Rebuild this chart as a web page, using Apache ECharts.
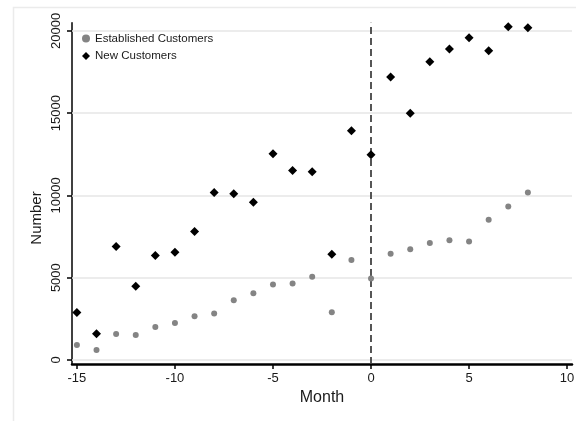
<!DOCTYPE html>
<html><head><meta charset="utf-8">
<script src="https://cdn.jsdelivr.net/npm/echarts@6/dist/echarts.min.js"></script>
<style>html,body{margin:0;padding:0;background:#fff}#c{width:576px;height:421px}</style>
</head><body><div id="c"></div>
<script>
const months = [-15,-14,-13,-12,-11,-10,-9,-8,-7,-6,-5,-4,-3,-2,-1,0,1,2,3,4,5,6,7,8];
const established = [900,600,1580,1520,2000,2250,2650,2820,3630,4050,4580,4640,5050,2900,6080,4950,6450,6730,7100,7280,7200,8520,9330,10180];
const newCustomers = [2880,1590,6900,4480,6350,6550,7800,10180,10100,9590,12530,11520,11440,6430,13930,12470,17200,15000,18130,18900,19590,18800,20260,20200];
const xTicks = [-15,-10,-5,0,5,10];
const yTicks = [0,5000,10000,15000,20000];
const cutoffMonth = 0;

const FONT = 'Liberation Sans, Arial, sans-serif';
const chart = echarts.init(document.getElementById('c'), null, {renderer:'canvas'});
const option = {
  animation:false,
  backgroundColor:'#fff',
  textStyle:{fontFamily:FONT},
  graphic:[
    {type:'rect', z:-5, silent:true, shape:{x:13.5,y:7.5,width:620,height:520}, style:{fill:'#fff', stroke:'#ebebeb', lineWidth:1.5}},
    {type:'text', silent:true, x:37, y:218, rotation:Math.PI/2,
     style:{text:'Number', fontSize:15, fill:'#1a1a1a', fontFamily:FONT, align:'center', verticalAlign:'middle'}}
  ],
  grid:{left:72, right:4, top:22.7, bottom:57, outerBoundsMode:'none', containLabel:false},
  legend:{
    orient:'vertical', left:82, top:31.5, padding:0, itemGap:3.4, itemWidth:8, itemHeight:8,
    textStyle:{fontSize:11.5, color:'#1a1a1a', fontFamily:FONT, lineHeight:14},
    data:[{name:'Established Customers', icon:'circle'},{name:'New Customers', icon:'diamond'}]
  },
  xAxis:{
    type:'value', min:-15.25, max:10.25,
    name:'Month', nameLocation:'middle', nameGap:24,
    nameTextStyle:{fontSize:16, color:'#1a1a1a', fontFamily:FONT},
    axisLine:{show:true, onZero:false, lineStyle:{color:'#000', width:2.5}},
    axisTick:{show:true, customValues:xTicks, length:5, lineStyle:{color:'#000', width:1.5}},
    axisLabel:{customValues:xTicks, fontSize:13, color:'#1a1a1a', margin:8, fontFamily:FONT, formatter:v=>String(v)},
    splitLine:{show:false}
  },
  yAxis:{
    type:'value', min:-250, max:20500,
    axisLine:{show:true, onZero:false, lineStyle:{color:'#000', width:1.5}},
    axisTick:{show:true, customValues:yTicks, length:5, lineStyle:{color:'#000', width:1.5}},
    axisLabel:{customValues:yTicks, rotate:90, fontSize:13, color:'#1a1a1a', margin:9, fontFamily:FONT, formatter:v=>String(v)},
    splitLine:{show:false}
  },
  series:[
    {type:'line', name:'grid', data:[], z:1, silent:true,
     markLine:{z:1, silent:true, symbol:['none','none'], label:{show:false}, animation:false,
       lineStyle:{type:'solid', color:'#e6e6e6', width:1.5},
       data:yTicks.map(v=>({yAxis:v}))}},
    {type:'line', name:'cutoff', data:[], z:2, silent:true,
     markLine:{z:2, silent:true, symbol:['none','none'], label:{show:false}, animation:false,
       lineStyle:{type:[7,4], color:'#444', width:1.8},
       data:[{xAxis:cutoffMonth}]}},
    {type:'scatter', name:'Established Customers', symbol:'circle', symbolSize:6, z:3,
     itemStyle:{color:'#848484', opacity:1}, data:months.map((m,i)=>[m, established[i]])},
    {type:'scatter', name:'New Customers', symbol:'diamond', symbolSize:9, z:4,
     itemStyle:{color:'#000', opacity:1}, data:months.map((m,i)=>[m, newCustomers[i]])}
  ]
};
chart.setOption(option);
</script></body></html>
